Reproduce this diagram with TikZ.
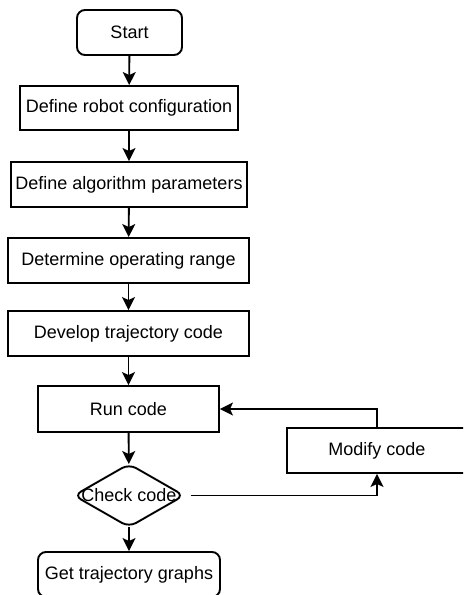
\documentclass[tikz,border=0pt]{standalone}
\usepackage{fontspec}
\setmainfont{Liberation Sans}
\usetikzlibrary{arrows.meta}

\begin{document}
\begin{tikzpicture}[x=0.5pt, y=-0.5pt, line width=0.95pt,
  every node/.style={font=\fontsize{9}{11}\selectfont},
  stepbox/.style={draw, rectangle, minimum height=22.5pt, inner sep=0pt},
  endbox/.style={stepbox, rounded corners=4pt},
  >={Stealth[length=6.5pt, width=6.5pt, inset=1.5pt]}]
  \useasboundingbox (0,0) rectangle (463,595);
  \clip (0,0) rectangle (463,595);

  \node[endbox, minimum width=52.5pt] (start) at (129.5,32.5) {Start};
  \node[stepbox, minimum width=109pt, minimum height=22pt] (robot) at (129,108) {Define robot configuration};
  \node[stepbox, minimum width=118pt] (algo) at (129,184.5) {Define algorithm parameters};
  \node[stepbox, minimum width=120.5pt] (range) at (128.5,260.5) {Determine operating range};
  \node[stepbox, minimum width=120.5pt] (develop) at (128.5,333.5) {Develop trajectory code};
  \node[stepbox, minimum width=90.5pt, minimum height=23pt] (run) at (128.5,409) {Run code};
  \node[stepbox, minimum width=90pt] (modify) at (377,450.5) {Modify code};
  \node[minimum width=54pt, minimum height=30.5pt, inner sep=0pt] (check) at (129,495.5) {Check code};
  \draw[rounded corners=4pt] (check.north) -- (check.east) -- (check.south) -- (check.west) -- cycle;
  \node[endbox, minimum width=91pt] (graphs) at (129,574.5) {Get trajectory graphs};

  \draw[->] (start) -- (robot);
  \draw[->] (robot) -- (algo);
  \draw[->] (algo) -- (range);
  \draw[->] (range) -- (develop);
  \draw[->] (develop) -- (run);
  \draw[->] (run) -- (check);
  \draw[->] (check) -- (graphs);
  \draw[->] ([xshift=3.5pt]check.east) -| (modify);
  \draw[->] (modify) |- (run);
\end{tikzpicture}
\end{document}
